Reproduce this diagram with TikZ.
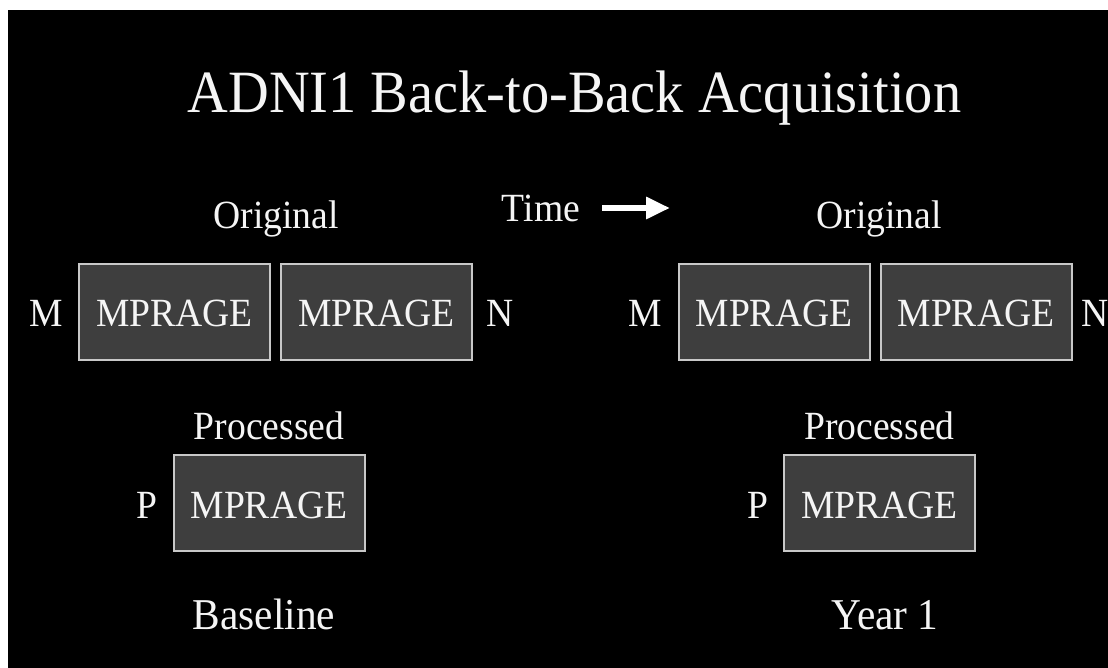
\documentclass[tikz,border=0pt]{standalone}
\usepackage{fontspec}
\setmainfont[FakeStretch=0.94]{Liberation Serif}
\usetikzlibrary{positioning,arrows.meta}
\definecolor{boxgray}{RGB}{62,62,62}
\definecolor{edgegray}{RGB}{200,200,200}
\definecolor{txtwhite}{RGB}{245,245,245}

\begin{document}
\begin{tikzpicture}[x=0.5pt,y=-0.5pt,
						scan/.style={rectangle, draw=edgegray, fill=boxgray, line width=1pt, minimum width=95.5pt, minimum height=48pt, text height=15pt, text depth=0pt, inner sep=0pt, text=txtwhite, font=\fontsize{20}{24}\selectfont},
						tag/.style={rectangle, inner sep=0pt, text=txtwhite, font=\fontsize{20}{24}\selectfont},
						visit/.style={rectangle, inner sep=0pt, anchor=base, text=txtwhite, font=\fontsize{22}{26}\selectfont},
						heading/.style={rectangle, inner sep=0pt, anchor=base, text=txtwhite, font=\fontsize{30}{36}\selectfont}
					]
					\fill[white] (0,0) rectangle (1108,668);
					\fill[black] (8,10) rectangle (1108,668);
					\useasboundingbox (0,0) rectangle (1108,668);
					\node[heading] (title) at (574.5,113) {ADNI1 Back-to-Back Acquisition};
					% baseline
					\node[scan] (m1) at (174.5,312) {MPRAGE};
					\node[scan] (n1) [right=4.5pt of m1] {MPRAGE};
					\node[tag] (mlab1) [base left=7.5pt of m1] {M};
					\node[tag] (nlab1) [base right=6.5pt of n1] {N};
					\node[tag, anchor=base] (orig1) at (276,229) {Original};
					\node[scan] (p1) at (269,503) {MPRAGE};
					\node[tag] (plab1) [base left=7.5pt of p1] {P};
					\node[tag] (proc1) [above=7pt of p1] {Processed};
					\node[visit] (visit1) at (264,629) {Baseline};
					% year 1
					\node[scan] (m2) at (774,312) {MPRAGE};
					\node[scan] (n2) [right=4.5pt of m2] {MPRAGE};
					\node[tag] (mlab2) [base left=7.5pt of m2] {M};
					\node[tag] (nlab2) [base right=4.5pt of n2] {N};
					\node[tag, anchor=base] (orig2) at (879,229) {Original};
					\node[scan] (p2) at (879.5,503) {MPRAGE};
					\node[tag] (plab2) [base left=7pt of p2] {P};
					\node[tag] (proc2) [above=7pt of p2] {Processed};
					\node[visit] (visit2) at (885,629) {Year 1};
					% time
					\node[tag, anchor=base] (time) at (541,222) {Time};
					\coordinate (tstart) at (602,208);
					\coordinate (tend) at (670,208);
					\begin{scope}[draw=white, line width=3pt]
					\draw[-{Triangle[length=12pt,width=10.5pt]}] (tstart) -- (tend);
					\end{scope}
					\end{tikzpicture}
\end{document}
